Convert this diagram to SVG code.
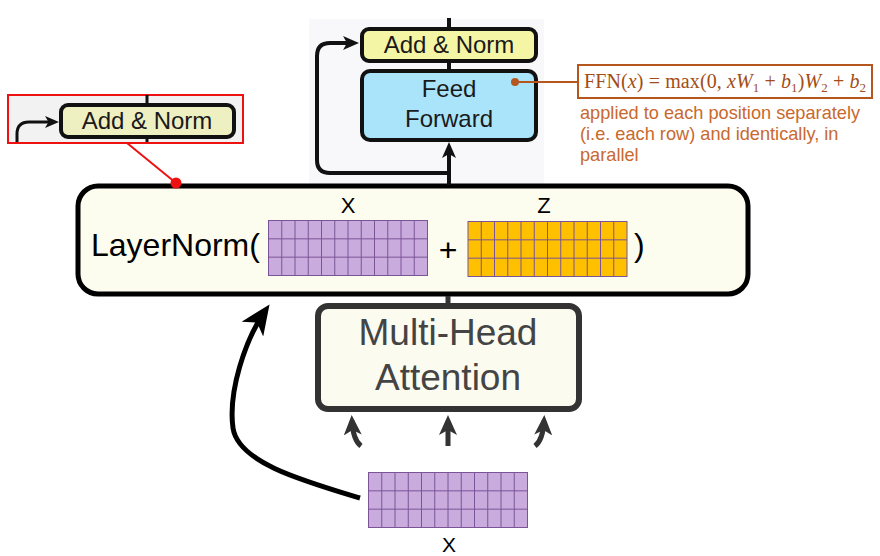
<svg xmlns="http://www.w3.org/2000/svg" xmlns:xlink="http://www.w3.org/1999/xlink" width="880" height="556" viewBox="0 0 880 556">
<style>
.sans{font-family:"Liberation Sans",Arial,sans-serif}
.box{stroke:#111;stroke-width:4}
.lbl{font-family:"Liberation Sans",Arial,sans-serif;font-size:24px;fill:#1a1a1a;text-anchor:middle}
.wire{fill:none;stroke:#111;stroke-width:4}
.gridl{stroke:#7b5497;stroke-width:1;fill:none}
.note{font-family:"Liberation Sans",Arial,sans-serif;font-size:18.2px;fill:#c8692e}
.fx{font-family:"Liberation Serif","Times New Roman",serif;font-size:20px;fill:#a24d17}
</style>
<defs>
<marker id="ah" markerUnits="userSpaceOnUse" viewBox="0 0 16 14" markerWidth="16" markerHeight="14" refX="10" refY="7" orient="auto"><path d="M0,0 L16,7 L0,14 L4,7 Z" fill="#111"/></marker>
<marker id="ahs" markerUnits="userSpaceOnUse" viewBox="0 0 14 12" markerWidth="14" markerHeight="12" refX="9" refY="6" orient="auto"><path d="M0,0 L14,6 L0,12 L3.5,6 Z" fill="#111"/></marker>
<marker id="ahb" markerUnits="userSpaceOnUse" viewBox="0 0 30 26" markerWidth="30" markerHeight="26" refX="22" refY="13" orient="auto"><path d="M0,0 L30,13 L0,26 L8,13 Z" fill="#000"/></marker>
<marker id="ahg" markerUnits="userSpaceOnUse" viewBox="0 0 20 18" markerWidth="20" markerHeight="18" refX="14" refY="9" orient="auto"><path d="M0,0 L20,9 L0,18 L5,9 Z" fill="#333"/></marker>
<g id="cells">
<path class="gridl" d="M13.25,0V55M26.5,0V55M39.75,0V55M53,0V55M66.25,0V55M79.5,0V55M92.75,0V55M106,0V55M119.25,0V55M132.5,0V55M145.75,0V55M0,18.33H159M0,36.67H159"/>
<rect class="gridl" x="0" y="0" width="159" height="55"/>
</g>
</defs>

<rect id="panel-bg" x="309" y="19" width="235" height="167" fill="#f8f8fb"/>

<g id="node-add-norm-top">
<rect class="box" x="362" y="29" width="174" height="32" rx="7" fill="#f5f5a6"/>
<text class="lbl" x="449" y="53">Add &amp; Norm</text>
</g>

<g id="node-feed-forward">
<rect class="box" x="362" y="71" width="174" height="69" rx="8" fill="#aae4fa"/>
<text class="lbl" x="449" y="97">Feed</text>
<text class="lbl" x="449" y="127">Forward</text>
</g>

<g id="node-ffn-note">
<rect x="578" y="65" width="294" height="33" fill="#fff" stroke="#b5561e" stroke-width="2"/>
<text class="fx" x="584" y="88" textLength="282" lengthAdjust="spacing">FFN(<tspan font-style="italic">x</tspan>) = max(0, <tspan font-style="italic">xW</tspan><tspan font-size="13" dy="4">1</tspan><tspan dy="-4"> + </tspan><tspan font-style="italic">b</tspan><tspan font-size="13" dy="4">1</tspan><tspan dy="-4">)</tspan><tspan font-style="italic">W</tspan><tspan font-size="13" dy="4">2</tspan><tspan dy="-4"> + </tspan><tspan font-style="italic">b</tspan><tspan font-size="13" dy="4">2</tspan></text>
<text class="note" x="580" y="119">applied to each position separately</text>
<text class="note" x="580" y="140">(i.e. each row) and identically, in</text>
<text class="note" x="580" y="161">parallel</text>
</g>

<g id="node-zoom-inset">
<rect x="8" y="95" width="235" height="48" fill="#f2f2f2" stroke="#ee1111" stroke-width="2"/>
<path d="M147,95V104M147,138V142" stroke="#111" stroke-width="3"/>
<path d="M17,142V134Q17,122 29,122H54" fill="none" stroke="#111" stroke-width="3" marker-end="url(#ahs)"/>
<rect x="61" y="105" width="173" height="32" rx="7" fill="#eff0c2" stroke="#111" stroke-width="4"/>
<text class="lbl" x="147" y="129">Add &amp; Norm</text>
</g>

<g id="node-layernorm">
<rect x="78" y="186" width="670" height="108" rx="20" fill="#fdfdef" stroke="#000" stroke-width="5"/>
<text class="sans" x="91" y="256" font-size="32" fill="#000">LayerNorm(</text>
<text class="sans" x="348" y="213" font-size="22" fill="#000" text-anchor="middle">X</text>
<text class="sans" x="544" y="213" font-size="22" fill="#000" text-anchor="middle">Z</text>
<g transform="translate(268.5,220.5)"><rect width="159" height="55" fill="#c9acdd"/><use xlink:href="#cells"/></g>
<text class="sans" x="448" y="261" font-size="32" fill="#000" text-anchor="middle">+</text>
<g transform="translate(468,221.5)"><rect width="159" height="55" fill="#ffc000"/><use xlink:href="#cells"/></g>
<text class="sans" x="634" y="256" font-size="32" fill="#000">)</text>
</g>

<g id="node-mha">
<rect x="318" y="306" width="261" height="103" rx="10" fill="#fbfbef" stroke="#333" stroke-width="6"/>
<text class="sans" x="448" y="345" font-size="37" fill="#444" text-anchor="middle">Multi-Head</text>
<text class="sans" x="448" y="390" font-size="37" fill="#444" text-anchor="middle">Attention</text>
</g>

<g id="node-x-input">
<g transform="translate(368.5,472.5)"><rect width="159" height="55" fill="#c9acdd"/><use xlink:href="#cells"/></g>
<text class="sans" x="449" y="552" font-size="21" fill="#000" text-anchor="middle">X</text>
</g>

<g id="connectors">
<path class="wire" d="M449,18V29"/>
<path class="wire" d="M449,61V71"/>
<path class="wire" d="M449,185V148" marker-end="url(#ah)"/>
<path class="wire" d="M449,173H330Q317,173 317,160V56Q317,43 330,43H353" marker-end="url(#ah)"/>
<path d="M448,296V304" stroke="#333" stroke-width="5"/>
<path d="M360,498C300,480 238,462 233,428C228,392 245,340 265,311" fill="none" stroke="#000" stroke-width="5" marker-end="url(#ahb)"/>
<path d="M448,446V421" fill="none" stroke="#333" stroke-width="5" marker-end="url(#ahg)"/>
<path d="M361,446Q353,440 352,421" fill="none" stroke="#333" stroke-width="5" marker-end="url(#ahg)"/>
<path d="M535,446Q543,440 544,421" fill="none" stroke="#333" stroke-width="5" marker-end="url(#ahg)"/>
<path d="M515,82H578" stroke="#b5561e" stroke-width="2"/>
<circle cx="515" cy="82" r="4" fill="#b5561e"/>
<path d="M127,143L176,183" stroke="#ee1111" stroke-width="2"/>
<circle cx="176" cy="183" r="5.5" fill="#ee1111"/>
</g>
</svg>
